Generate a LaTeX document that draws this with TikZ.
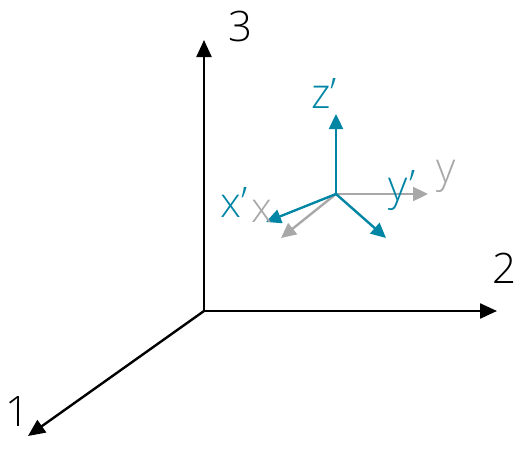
\documentclass[tikz,border=0pt]{standalone}
\usepackage{fontspec}
\setmainfont{Open Sans Light}
\usetikzlibrary{arrows.meta}
\definecolor{tealc}{RGB}{0,134,164}
\definecolor{grayc}{RGB}{168,168,168}
\tikzset{
  axis/.style={line width=2.4pt,black,-{Triangle[length=17pt,width=15pt]}},
  gaxis/.style={line width=2.4pt,grayc,-{Triangle[length=15pt,width=14pt]}},
  taxis/.style={line width=2.4pt,tealc,-{Triangle[length=15pt,width=14pt]}},
  lbl/.style={inner sep=0pt,font=\fontsize{42}{46}\selectfont},
}
\begin{document}
\begin{tikzpicture}[x=1pt,y=-1pt]
\useasboundingbox (0,0) rectangle (517,466);
\coordinate (O) at (204,311);
\coordinate (A3) at (204,40);
\coordinate (A2) at (497,311);
\coordinate (A1) at (28,436);
\draw[axis] (O) -- (A3);
\draw[axis] (O) -- (A2);
\draw[axis] (O) -- (A1);
\node[lbl] (l3) at (240,26) {3};
\node[lbl] (l2) at (504,268) {2};
\node[lbl] (l1) at (17,412) {1};
\coordinate (C) at (336,194);
\coordinate (gy) at (428,194);
\coordinate (gx) at (281,238);
\coordinate (tz) at (336,114);
\coordinate (ty) at (386,238);
\coordinate (tx) at (266,222);
\draw[gaxis] (C) -- (gy);
\draw[gaxis] (C) -- (gx);
\draw[taxis] (C) -- (tz);
\draw[taxis] (C) -- (ty);
\draw[taxis] (C) -- (tx);
\node[lbl,tealc] (lz) at (324,94) {z’};
\node[lbl,tealc] (lx) at (234,203) {x’};
\node[lbl,grayc] (lgx) at (262,211) {x};
\node[lbl,tealc] (ly) at (402,191) {y’};
\node[lbl,grayc] (lgy) at (446,176) {y};
\end{tikzpicture}
\end{document}
